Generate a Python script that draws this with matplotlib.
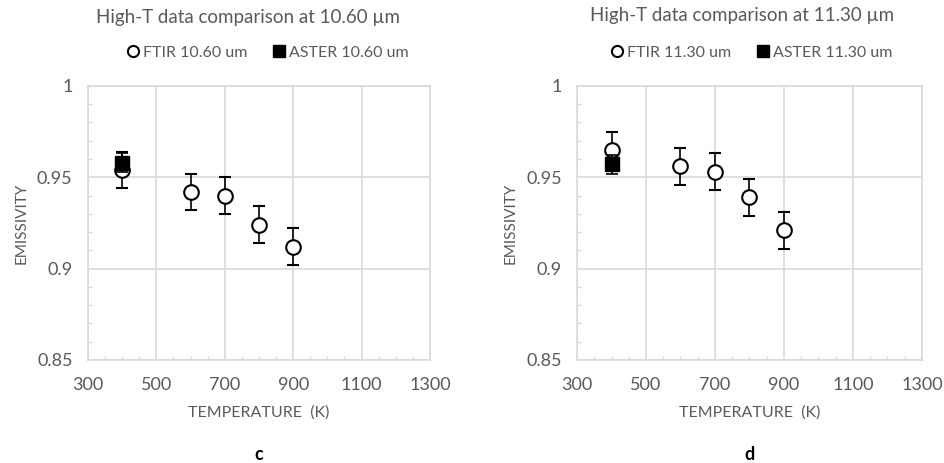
import matplotlib.pyplot as plt
from matplotlib.lines import Line2D
from matplotlib.ticker import MultipleLocator

plt.rcParams['font.family'] = ['Lato', 'DejaVu Sans']

temps = [400, 600, 700, 800, 900]

ftir_106 = [0.954, 0.942, 0.940, 0.924, 0.912]
ftir_106_err = [0.010, 0.010, 0.010, 0.010, 0.010]
aster_106 = [0.958]
aster_106_err = [0.005]

ftir_113 = [0.965, 0.956, 0.953, 0.939, 0.921]
ftir_113_err = [0.010, 0.010, 0.010, 0.010, 0.010]
aster_113 = [0.957]
aster_113_err = [0.005]

panels = [
    ('10.60', ftir_106, ftir_106_err, aster_106, aster_106_err, 'c'),
    ('11.30', ftir_113, ftir_113_err, aster_113, aster_113_err, 'd'),
]

grey = '#595959'
light = '#d9d9d9'

fig = plt.figure(figsize=(9.45, 4.63), dpi=100)
axes_pos = [[0.093, 0.2225, 0.362, 0.592], [0.6106, 0.2225, 0.365, 0.592]]
title_xy = [(248, 18), (742, 15)]
legend_x = [266, 750]

for i, (pos, (wl, ftir, ftir_err, aster, aster_err, letter)) in enumerate(zip(axes_pos, panels)):
    ax = fig.add_axes(pos)
    ax.errorbar(temps, ftir, yerr=ftir_err, fmt='o', ms=10.5, mfc='white', mec='black',
                mew=1.5, ecolor='black', elinewidth=1.2, capsize=4, capthick=1.2, zorder=3)
    ax.errorbar(temps[:1], aster, yerr=aster_err, fmt='s', ms=9.5, mfc='black', mec='black',
                ecolor='black', elinewidth=1.2, capsize=4, capthick=1.2, zorder=4)
    ax.set_xlim(300, 1300)
    ax.set_ylim(0.85, 1.0)
    ax.set_xticks([300, 500, 700, 900, 1100, 1300])
    ax.set_yticks([0.85, 0.9, 0.95, 1.0])
    ax.set_yticklabels(['0.85', '0.9', '0.95', '1'])
    ax.xaxis.set_minor_locator(MultipleLocator(50))
    ax.yaxis.set_minor_locator(MultipleLocator(0.01))
    ax.grid(True, which='major', color=light, linewidth=1.2, zorder=0)
    ax.set_axisbelow(True)
    for s in ax.spines.values():
        s.set_color(light)
        s.set_linewidth(1.2)
    ax.tick_params(which='major', length=0, labelsize=13, colors=grey)
    ax.tick_params(axis='x', which='major', pad=12)
    ax.tick_params(axis='y', which='major', pad=11)
    ax.tick_params(which='minor', direction='in', length=3, color=light, width=1)
    ax.tick_params(axis='x', which='minor', top=False)
    ax.tick_params(axis='y', which='minor', right=False)
    ax.set_xlabel('TEMPERATURE  (K)', fontsize=11.5, color=grey, labelpad=9)
    ax.set_ylabel('EMISSIVITY', fontsize=11, color=grey, labelpad=6)

    tx, ty = title_xy[i]
    fig.text(tx / 945, 1 - ty / 463, f'High-T data comparison at {wl} \u00b5m',
             ha='center', va='center', fontsize=13.5, color=grey)

    handles = [
        Line2D([], [], marker='o', ls='none', ms=8, mfc='white', mec='black', mew=1.5),
        Line2D([], [], marker='s', ls='none', ms=8, mfc='black', mec='black'),
    ]
    labels = [f'FTIR {wl} um', f'ASTER {wl} um']
    leg = fig.legend(handles, labels, loc='center', bbox_to_anchor=(legend_x[i] / 945, 1 - 53 / 463),
                     ncol=2, frameon=False, fontsize=11.5, handletextpad=0.0, columnspacing=1.4,
                     handlelength=1.2, borderaxespad=0)
    for t in leg.get_texts():
        t.set_color(grey)

    ax.text(0.5, -0.345, letter, transform=ax.transAxes, ha='center', va='center',
            fontsize=13, fontweight='bold', color='black')

fig.savefig('out.png', dpi=100)
